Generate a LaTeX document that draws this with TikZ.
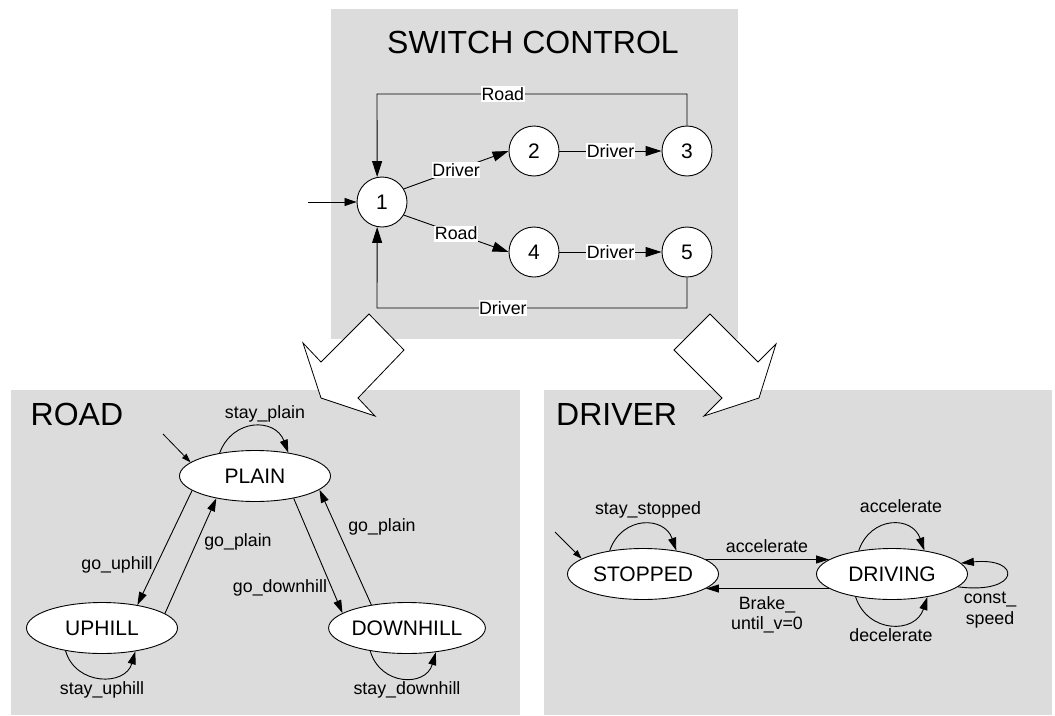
\documentclass[tikz,border=0pt]{standalone}
\usepackage{fontspec}
\setmainfont{Liberation Sans}
\usetikzlibrary{shapes.geometric,arrows.meta}
\definecolor{boxgray}{RGB}{220,220,220}
\begin{document}
\begin{tikzpicture}[x=1pt,y=-1pt,
  panel/.style={fill=boxgray,draw=none},
  ttl/.style={font=\fontsize{32}{36}\selectfont, anchor=base west, inner sep=0pt},
  stnum/.style={circle,draw,fill=white,minimum size=50pt,inner sep=0pt,line width=0.9pt,font=\fontsize{21}{24}\selectfont},
  stell/.style={ellipse,draw,fill=white,minimum width=151pt,minimum height=51pt,inner sep=0pt,line width=0.9pt,font=\fontsize{21}{24}\selectfont},
  lbl/.style={font=\fontsize{17.8}{20.5}\selectfont, inner sep=1pt},
  wlbl/.style={lbl, fill=white, inner xsep=0.5pt, inner ysep=1.5pt},
  arrT/.style={line width=0.9pt, -{Triangle[length=16pt,width=10pt]}},
  arrB/.style={line width=0.9pt, -{Triangle[length=13pt,width=8pt]}},
  arrI/.style={line width=0.8pt, -{Triangle[length=12pt,width=8pt]}},
  arrS/.style={line width=0.8pt, -{Triangle[length=9pt,width=6pt]}},
  blockarrow/.style={fill=white, draw=black, line width=0.8pt, line join=miter}
]
\useasboundingbox (0,0) rectangle (1055,715);
% panels
\fill[panel] (331,9) rectangle (738,339);
\fill[panel] (11,390) rectangle (520,715);
\fill[panel] (544,390) rectangle (1052,715);
% block arrows
\draw[blockarrow] (369,314) -- (404,350) -- (358,398) -- (375,416) -- (321,398) -- (303,343) -- (321,362) -- cycle;
\draw[blockarrow] (710,314) -- (674,350) -- (722,398) -- (704,416) -- (759,398) -- (776,344) -- (758,362) -- cycle;

% ---------- SWITCH CONTROL ----------
\node[ttl, anchor=base] (tsw) at (533,53.5) {SWITCH CONTROL};
\node[stnum] (c1) at (382,202) {1};
\node[stnum] (c2) at (534,151) {2};
\node[stnum] (c3) at (687,151) {3};
\node[stnum] (c4) at (534,252) {4};
\node[stnum] (c5) at (687,252) {5};
\coordinate (i1) at (308,202);
\coordinate (ra) at (687,94);
\coordinate (rb) at (377,94);
\coordinate (da) at (687,308);
\coordinate (db) at (377,308);
\draw[arrI] (i1) -- (c1);
\draw[arrT] (c1.31) -- node[wlbl] {Driver} (c2.west);
\draw[arrT] (c1.-31) -- node[wlbl] {Road} (c4.west);
\draw[arrT] (c2) -- node[wlbl] {Driver} (c3);
\draw[arrT] (c4) -- node[wlbl] {Driver} (c5);
\draw[arrT] (c3.north) -- (ra) -- node[wlbl, pos=0.594] {Road} (rb) -- (c1.101);
\draw[arrT] (c5.south) -- (da) -- node[wlbl, pos=0.594] {Driver} (db) -- (c1.259);

% ---------- ROAD ----------
\node[ttl] (troad) at (30.5,425) {ROAD};
\node[stell] (plain) at (255,476) {PLAIN};
\node[stell] (uphill) at (102,628) {UPHILL};
\node[stell] (downhill) at (407,628) {DOWNHILL};
\coordinate (iP) at (163,434);
\draw[arrS] (iP) -- (plain.168);
\draw[arrB] (plain.147) .. controls +(13,-35) and +(-13,-35) .. (plain.35)
  node[lbl] at (265,414) {stay\_plain};
\draw[arrB] (plain.193) -- (uphill.33) node[lbl] at (117,565) {go\_uphill};
\draw[arrB] (uphill.13) -- (plain.210) node[lbl] at (238,542) {go\_plain};
\draw[arrB] (plain.330) -- (downhill.167) node[lbl] at (280,588) {go\_downhill};
\draw[arrB] (downhill.147) -- (plain.348) node[lbl] at (382,527) {go\_plain};
\draw[arrB] (uphill.212) .. controls +(10,35) and +(-10,35) .. (uphill.325)
  node[lbl] at (102,690) {stay\_uphill};
\draw[arrB] (downhill.212) .. controls +(10,35) and +(-10,35) .. (downhill.320)
  node[lbl] at (407,690) {stay\_downhill};

% ---------- DRIVER ----------
\node[ttl] (tdrv) at (556,425) {DRIVER};
\node[stell] (stopped) at (643,574) {STOPPED};
\node[stell] (driving) at (892,574) {DRIVING};
\coordinate (iS) at (555,532);
\draw[arrS] (iS) -- (stopped.166);
\draw[arrB] (stopped.145) .. controls +(12,-35) and +(-12,-35) .. (stopped.35)
  node[lbl] at (648,510) {stay\_stopped};
\draw[arrB] (stopped.13) -- (driving.167) node[lbl] at (767,546) {accelerate};
\draw[arrB] (driving.193) -- (stopped.-13)
  node[lbl, align=center] at (767,615) {Brake\_\\until\_v=0};
\draw[arrB] (driving.145) .. controls +(12,-35) and +(-12,-35) .. (driving.36)
  node[lbl] at (901,506) {accelerate};
\draw[arrB] (driving.212) .. controls +(12,37) and +(-12,37) .. (driving.327)
  node[lbl] at (891,635) {decelerate};
\draw[arrB] (driving.349) .. controls +(62,8) and +(62,-6) .. (driving.9)
  node[lbl, align=center] at (990,610) {const\_\\speed};
\end{tikzpicture}
\end{document}
